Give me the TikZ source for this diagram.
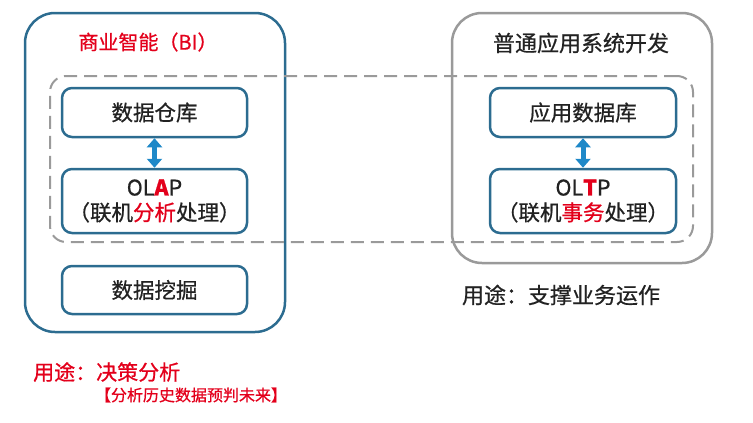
\documentclass[tikz,border=0pt]{standalone}
\usepackage{fontspec}
\setmainfont{Noto Sans CJK SC}[FakeBold=0.7]
\usetikzlibrary{arrows.meta}
\definecolor{biblue}{HTML}{2C6C90}
\definecolor{arrblue}{HTML}{1E88C8}
\definecolor{grayln}{HTML}{9A9A9A}
\definecolor{redtxt}{HTML}{E3001B}
\definecolor{txt}{HTML}{222222}
\begin{document}
\begin{tikzpicture}[x=1pt,y=-1pt,
  bigbox/.style={draw, line width=2.5pt, rounded corners=30pt, inner sep=0pt},
  innerbox/.style={draw=biblue, line width=2.5pt, rounded corners=10pt, fill=white,
    minimum width=185pt, inner sep=0pt, align=center, text=txt,
    font=\fontsize{21.5pt}{25pt}\selectfont},
  dashbox/.style={draw=grayln, line width=2pt, dash pattern=on 13pt off 7pt, rounded corners=16pt, inner sep=0pt},
  dblarrow/.style={draw=arrblue, line width=5pt, {Triangle[width=15pt,length=9pt]}-{Triangle[width=15pt,length=9pt]}},
  lbl/.style={font=\fontsize{21.5pt}{24pt}\selectfont, inner sep=0pt}
]
\useasboundingbox (0,0) rectangle (753,423);
% outer boxes
\node[bigbox, draw=biblue, minimum width=260pt, minimum height=319pt] (bi) at (155,172.5) {};
\node[bigbox, draw=grayln, minimum width=260pt, minimum height=250pt] (app) at (582,138) {};
% dashed group
\node[dashbox, minimum width=643pt, minimum height=166pt] (grp) at (371.5,159) {};
% titles
\node[lbl, text=redtxt, font=\fontsize{20pt}{24pt}\selectfont] (bititle) at (148,42) {商业智能（BI）};
\node[lbl, text=txt, font=\fontsize{22pt}{24pt}\selectfont] (apptitle) at (581,43) {普通应用系统开发};
% inner boxes
\node[innerbox, minimum height=49pt] (wh) at (154.5,112.5) {数据仓库};
\node[innerbox, minimum height=64pt] (olap) at (154.5,201) {OL{\color{redtxt}\bfseries A}P\\（联机{\color{redtxt}分析}处理）};
\node[innerbox, minimum height=48pt] (dm) at (154.5,290) {数据挖掘};
\node[innerbox, minimum width=186pt, minimum height=49pt] (adb) at (583,112.5) {应用数据库};
\node[innerbox, minimum width=186pt, minimum height=64pt] (oltp) at (583,201) {OL{\color{redtxt}\bfseries T}P\\（联机{\color{redtxt}事务}处理）};
% arrows
\draw[dblarrow] (wh.south) -- (olap.north);
\draw[dblarrow] (adb.south) -- (oltp.north);
% usage texts
\node[lbl, text=txt, font=\fontsize{22pt}{24pt}\selectfont] (use2) at (561,295) {用途：支撑业务运作};
\node[lbl, text=redtxt, anchor=west, font=\fontsize{21pt}{24pt}\selectfont] (use1) at (33,372) {用途：决策分析};
\node[font=\fontsize{16pt}{19pt}\selectfont, inner sep=0pt, text=redtxt] (use1b) at (191,395) {【分析历史数据预判未来】};
\end{tikzpicture}
\end{document}
